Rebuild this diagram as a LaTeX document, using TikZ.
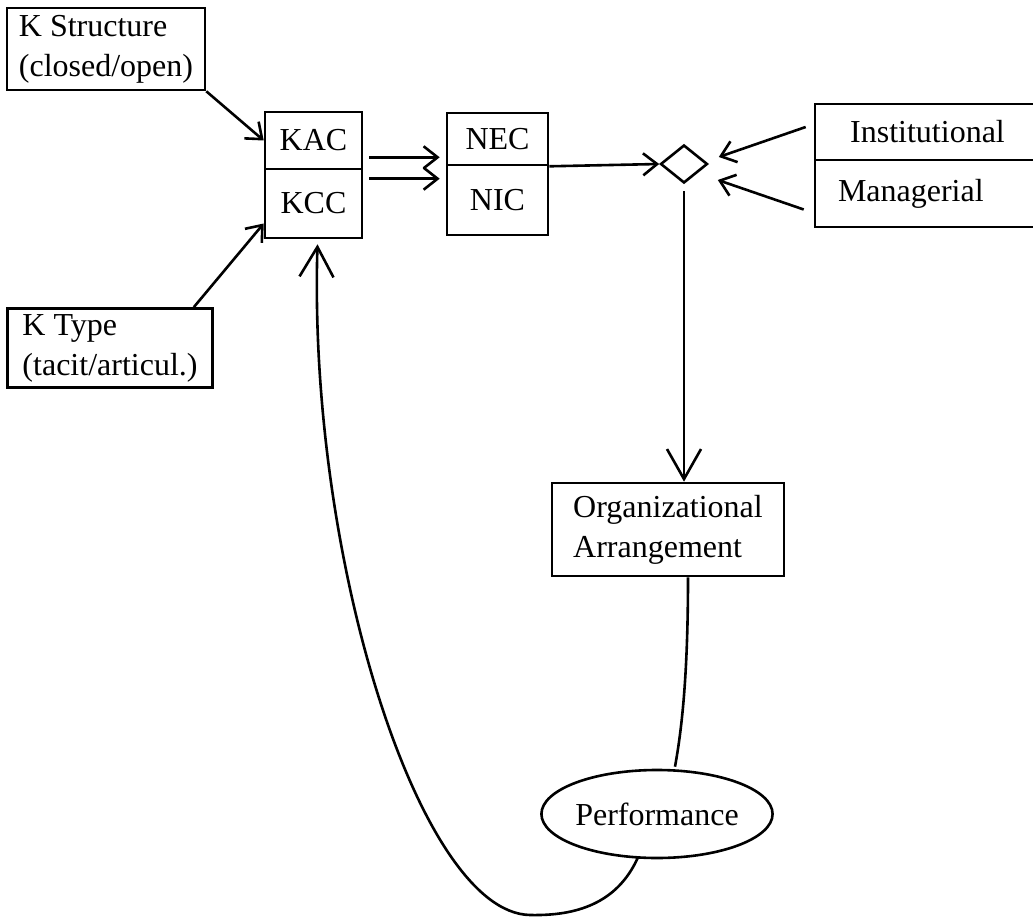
\documentclass[tikz,border=0pt]{standalone}
\usepackage{fontspec}
\setmainfont{Liberation Serif}
\usetikzlibrary{arrows.meta,shapes.geometric,calc}

\begin{document}
\begin{tikzpicture}[x=0.5pt, y=-0.5pt,
      box/.style   = {rectangle, draw, line width=1.3pt, inner sep=0pt,
          align=left, font=\fontsize{16}{20}\selectfont},
      perfbox/.style = {ellipse, draw, line width=1.3pt, inner sep=0pt,
          font=\fontsize{16}{20}\selectfont},
      junct/.style = {diamond, draw, line width=1.3pt, inner sep=0pt,
          minimum width=23.5pt, minimum height=19pt},
      link/.style  = {-{Straight Barb[length=7pt,width=11pt,line width=1.3pt]}, line width=1.3pt},
      biglink/.style = {-{Straight Barb[length=15pt,width=17pt,line width=1.3pt]}, line width=1.3pt},
    ]
    \useasboundingbox (0,0) rectangle (1033,919);
    \clip (0,0) rectangle (1033,919);

    % ── Knowledge inputs ─────────────────────────────────────────
    \node[box, minimum width=99pt, minimum height=41pt]   (kstruct) at (106,49)  {K Structure\\(closed/open)};
    \node[box, minimum width=102.5pt, minimum height=39.5pt] (ktype) at (110,348) {K Type\\(tacit/articul.)};

    % ── Capabilities ─────────────────────────────────────────────
    \node[box, minimum width=48.5pt, minimum height=28.5pt] (kac) at (313.5,140.5) {KAC};
    \node[box, minimum width=48.5pt, minimum height=34.5pt] (kcc) at (313.5,203.5) {KCC};
    \node[box, minimum width=50.5pt, minimum height=26pt]   (nec) at (497.5,139)   {NEC};
    \node[box, minimum width=50.5pt, minimum height=35pt]   (nic) at (497.5,200)   {NIC};

    % ── Governance ───────────────────────────────────────────────
    \node[junct] (dia) at (684,164) {};
    \node[box, minimum width=112.5pt, minimum height=28pt]   (inst) at (927.5,132)   {Institutional};
    \node[box, minimum width=112.5pt, minimum height=33.5pt, text width=89.5pt] (mgr) at (927.5,193.5) {Managerial};

    % ── Outcome ──────────────────────────────────────────────────
    \node[box, minimum width=116pt, minimum height=46.5pt] (org) at (668,529.5) {Organizational\\Arrangement};
    \node[perfbox, minimum width=110pt, minimum height=44pt] (perf) at (657,814) {Performance};

    % ── Links ────────────────────────────────────────────────────
    \draw[link] (kstruct.south east) -- (kac.west);
    \draw[link] ([xshift=-10pt]ktype.north east) -- ([yshift=-10pt]kcc.west);
    \draw[link] ($(kac.south east)+(6,-13)$) -- ($(nec.south west)+(-6,-9)$);
    \draw[link] ($(kcc.north east)+(6,11)$)  -- ($(nic.north west)+(-6,15)$);
    \draw[link] (nec.south east) -- (dia.west);
    \draw[link] ($(inst.west)+(-8,-5)$) -- ($(dia.east)+(10,-7)$);
    \draw[link] ($(mgr.west)+(-10,16)$) -- ($(dia.east)+(9,16)$);
    \draw[biglink] ($(dia.south)+(0,7)$) -- (dia.south |- org.north);
    \draw[line width=1.3pt] ($(org.south)+(20,0)$)
        .. controls ($(org.south)+(20,110)$) and ($(perf.north)+(23,-30)$) .. ($(perf.north)+(18,-2)$);
    \draw[biglink] ($(perf.south)+(-19,-2)$)
        .. controls ($(perf.south)+(-40,45)$) and (575,916) .. (530,915)
        .. controls (420,913) and (308,560) .. ($(kcc.south)+(4,5)$);

  \end{tikzpicture}
\end{document}
